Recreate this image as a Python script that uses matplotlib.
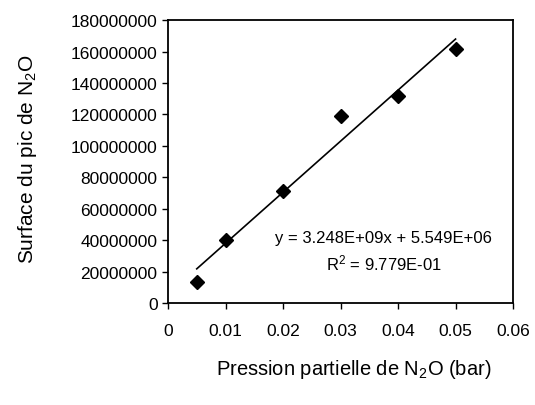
import matplotlib
matplotlib.use('Agg')
import numpy as np
import matplotlib.pyplot as plt

# données
pression = [0.005, 0.01, 0.02, 0.03, 0.04, 0.05]
surface = [13500000, 40000000, 71000000, 119000000, 132000000, 161500000]

# droite de tendance (affichée sur le graphique)
pente = 3.248e9
ordonnee = 5.549e6

x_ticks = [0, 0.01, 0.02, 0.03, 0.04, 0.05, 0.06]
x_labels = ['0', '0.01', '0.02', '0.03', '0.04', '0.05', '0.06']
y_ticks = [0, 20000000, 40000000, 60000000, 80000000, 100000000,
           120000000, 140000000, 160000000, 180000000]


def main():
    plt.rcParams['font.family'] = ['Liberation Sans', 'DejaVu Sans']
    plt.rcParams['mathtext.fontset'] = 'custom'
    plt.rcParams['mathtext.rm'] = 'Liberation Sans'
    plt.rcParams['mathtext.it'] = 'Liberation Sans'

    fig = plt.figure(figsize=(5.35, 4.06), dpi=100)
    ax = fig.add_axes([0.314, 0.251, 0.645, 0.697])

    ax.plot(pression, surface, 'D', color='black', markersize=7)
    x_fit = np.array([pression[0], pression[-1]])
    ax.plot(x_fit, pente * x_fit + ordonnee, color='black', linewidth=1.2)

    ax.set_xlim(0, 0.06)
    ax.set_ylim(0, 180000000)
    ax.set_xticks(x_ticks)
    ax.set_xticklabels(x_labels)
    ax.set_yticks(y_ticks)
    ax.set_yticklabels([str(v) for v in y_ticks])
    ax.tick_params(direction='out', length=4, width=1, labelsize=12.5, colors='black')
    ax.tick_params(axis='x', pad=10)
    for s in ax.spines.values():
        s.set_linewidth(1.3)

    ax.text(0.0375, 42000000, 'y = 3.248E+09x + 5.549E+06', ha='center', va='center', fontsize=12)
    ax.text(0.0375, 26000000, 'R$^2$ = 9.779E-01', ha='center', va='center', fontsize=12)

    fig.text(0.052, 0.608, 'Surface du pic de N$_2$O', rotation=90, ha='center', va='center', fontsize=15)
    fig.text(0.662, 0.089, 'Pression partielle de N$_2$O (bar)', ha='center', va='center', fontsize=14.5)

    fig.savefig('out.png', dpi=100, facecolor='white')


if __name__ == '__main__':
    main()
